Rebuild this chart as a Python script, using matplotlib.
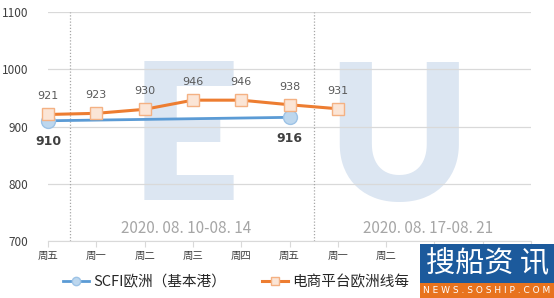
import matplotlib

matplotlib.use("Agg")
import matplotlib.pyplot as plt
import numpy as np
from matplotlib.patches import Rectangle

plt.rcParams["font.family"] = ["Noto Sans CJK SC", "DejaVu Sans"]

# 数据
days = ["周五", "周一", "周二", "周三", "周四", "周五", "周一", "周二", "周三", "周四", "周五"]
scfi_idx = [0, 5]
scfi_vals = [910, 916]
ec_vals = [921, 923, 930, 946, 946, 938, 931]
week_labels = ["2020. 08. 10-08. 14", "2020. 08. 17-08. 21"]
week_pos = [2.86, 7.87]
week_split = [0.45, 5.5]

fig = plt.figure(figsize=(5.54, 2.98), dpi=100)
ax = fig.add_axes([48 / 554, 57 / 298, 483 / 554, 229 / 298])

x = np.arange(len(days))
ec_x = x[:len(ec_vals)]

# 背景水印 "EU"
for xp, ch in [(2.83, "E"), (7.25, "U")]:
    ax.text(xp, 771.6, ch, fontsize=137, fontfamily="Lato", fontweight="heavy",
            color="#dce6f2", ha="center", va="baseline", zorder=0.2)

ax.yaxis.grid(True, color="#d9d9d9", linewidth=0.9)
ax.set_axisbelow("line")

for xs in week_split:
    ax.axvline(xs, color="#a6a6a6", linestyle=(0, (1, 1.5)), linewidth=0.9, zorder=1.6)

l1, = ax.plot(scfi_idx, scfi_vals, color="#5b9bd5", linewidth=2, marker="o",
              markersize=10, markerfacecolor="#bdd7ee", markeredgecolor="#9dc3e6",
              zorder=3, clip_on=False, label="SCFI欧洲（基本港）")
l2, = ax.plot(ec_x, ec_vals, color="#ed7d31", linewidth=2.2, marker="s",
              markersize=8.5, markerfacecolor="#fbe5d6", markeredgecolor="#f4b183",
              zorder=4, clip_on=False, label="电商平台欧洲线每")

for xi, v in zip(ec_x, ec_vals):
    ax.annotate(f"{v}", (xi, v), xytext=(0, 13), textcoords="offset points",
                ha="center", va="center", fontsize=8, color="#595959", fontfamily="DejaVu Sans")
for xi, v in zip(scfi_idx, scfi_vals):
    ax.annotate(f"{v}", (xi, v), xytext=(0, -15), textcoords="offset points",
                ha="center", va="center", fontsize=9, fontweight="bold", color="#404040",
                fontfamily="DejaVu Sans")

for xp, lab in zip(week_pos, week_labels):
    ax.text(xp, 722.7, lab, ha="center", va="center", fontsize=11, color="#a6a6a6")

ax.set_xlim(0, 10)
ax.set_ylim(700, 1100)
ax.set_yticks([700, 800, 900, 1000, 1100])
ax.set_xticks(x)
ax.set_xticklabels(days, fontsize=7.5, color="#404040")
ax.tick_params(axis="y", length=0, pad=14, labelsize=8.5, labelcolor="#404040")
ax.tick_params(axis="x", length=4, color="#d9d9d9", pad=3)
for s in ["left", "right", "top"]:
    ax.spines[s].set_visible(False)
ax.spines["bottom"].set_color("#d9d9d9")
ax.spines["bottom"].set_zorder(1.7)

fig.legend(handles=[l1, l2], loc="center left", bbox_to_anchor=(50 / 554, 1 - 282 / 298),
           ncol=2, frameon=False, fontsize=10.5, markerscale=0.6, handlelength=1.8,
           handletextpad=0.3, columnspacing=2.4, labelcolor="#262626")

# 搜船资讯 标识
logo = fig.add_axes([420 / 554, 0, 134 / 554, 54 / 298])
logo.set_xlim(0, 134)
logo.set_ylim(0, 54)
logo.axis("off")
logo.add_patch(Rectangle((0, 15), 134, 39, facecolor="#1c5a9c", edgecolor="none"))
logo.add_patch(Rectangle((0, 0), 134, 15, facecolor="#e8731e", edgecolor="none"))
logo.text(67, 34, "搜船资 讯", ha="center", va="center", fontsize=21, color="white")
logo.text(67, 7.5, "N E W S . S O S H I P . C O M", ha="center", va="center",
          fontsize=6.5, color="white", fontfamily="DejaVu Sans")

fig.savefig("out.png", dpi=100)
